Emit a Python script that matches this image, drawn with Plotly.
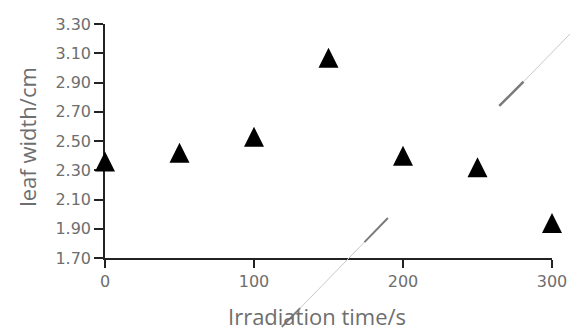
import plotly.graph_objects as go

# data
irradiation_time = [0, 50, 100, 150, 200, 250, 300]
leaf_width = [2.36, 2.42, 2.53, 3.07, 2.40, 2.32, 1.94]
y_tick_vals = [1.70, 1.90, 2.10, 2.30, 2.50, 2.70, 2.90, 3.10, 3.30]
x_tick_vals = [0, 100, 200, 300]
y_range = [1.7, 3.3]

W, H = 570, 332
L, R, T, B = 105, 18.3, 24, 73.7
pw, ph = W - L - R, H - T - B

def px2paper(x, y):
    return (x - L) / pw, (H - B - y) / ph

# marker geometry: the arrow-up glyph has its tip at the data point, so a
# hidden overlay axis shifts it by half its height to centre it on the value
marker_size = 20
half_h = marker_size / 2
shift = half_h * (y_range[1] - y_range[0]) / ph

fig = go.Figure()
# empty trace so the main x/y subplot (with its visible axes) is created
fig.add_trace(go.Scatter(x=[], y=[], mode="markers", showlegend=False,
                         hoverinfo="skip"))
fig.add_trace(go.Scatter(
    x=irradiation_time, y=leaf_width, mode="markers", yaxis="y2",
    marker=dict(symbol="arrow-up", size=marker_size, color="black",
                line=dict(width=0)),
    cliponaxis=False, showlegend=False, hoverinfo="x+y",
))

# decorative stray diagonal strokes present in the reference image
segments = [
    ((281.7, 327.3), (300.0, 308.5), 2, "#7a7a7a"),
    ((300.0, 308.5), (364.3, 242.4), 1, "#c8c8c8"),
    ((364.3, 242.4), (387.7, 218.3), 2, "#7a7a7a"),
    ((499.0, 106.0), (523.3, 81.7), 2.5, "#7a7a7a"),
    ((523.3, 81.7), (575.0, 28.5), 1, "#c8c8c8"),
]
shapes = []
for (x0, y0), (x1, y1), w, c in segments:
    a0, b0 = px2paper(x0, y0)
    a1, b1 = px2paper(x1, y1)
    shapes.append(dict(type="line", xref="paper", yref="paper",
                       x0=a0, y0=b0, x1=a1, y1=b1,
                       line=dict(color=c, width=w), layer="above"))

tick_font = dict(family="DejaVu Sans", size=16, color="#6e6e6e")
text_color = "#6e6e6e"

xt_x, xt_y = px2paper(317, 316)
yt_x, yt_y = px2paper(27, 137)
annotations = [
    dict(text="Irradiation time/s", xref="paper", yref="paper",
         x=xt_x, y=xt_y, xanchor="center", yanchor="middle",
         showarrow=False, font=dict(family="Open Sans", size=22, color=text_color)),
    dict(text="leaf width/cm", xref="paper", yref="paper",
         x=yt_x, y=yt_y, xanchor="center", yanchor="middle", textangle=-90,
         showarrow=False, font=dict(family="Open Sans", size=22, color=text_color)),
]

fig.update_layout(
    width=W, height=H,
    margin=dict(l=L, r=R, t=T, b=B, pad=0, autoexpand=False),
    paper_bgcolor="white", plot_bgcolor="white",
    shapes=shapes, annotations=annotations,
    xaxis=dict(
        range=[0, 300], tickvals=x_tick_vals, ticks="outside", ticklen=8,
        tickwidth=1.5, tickcolor="#222", showline=True, linecolor="#222",
        linewidth=1.5, showgrid=False, zeroline=False, tickfont=tick_font,
        layer="below traces", automargin=False,
    ),
    yaxis=dict(
        range=y_range, tickvals=y_tick_vals, tickformat=".2f",
        ticks="outside", ticklen=9, tickwidth=1.5, tickcolor="#222",
        showline=True, linecolor="#222", linewidth=1.5, showgrid=False,
        zeroline=False, tickfont=tick_font, layer="below traces",
        automargin=False,
    ),
    yaxis2=dict(
        overlaying="y", range=[y_range[0] - shift, y_range[1] - shift],
        visible=False, showgrid=False, zeroline=False,
    ),
)

fig.write_html("out.html", config={"displayModeBar": False},
               post_script="document.body.style.margin='0';document.body.style.overflow='hidden';")
